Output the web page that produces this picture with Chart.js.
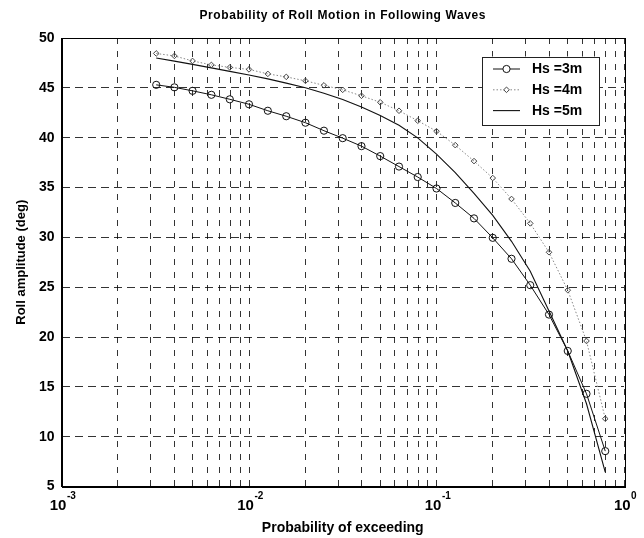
<!DOCTYPE html>
<html><head><meta charset="utf-8">
<script src="https://cdn.jsdelivr.net/npm/chart.js@4/dist/chart.umd.min.js"></script>
<style>html,body{margin:0;padding:0;background:#fff}#wrap{width:644px;height:538px}</style>
</head><body><div id="wrap"><canvas id="c" width="644" height="538"></canvas></div>
<script>
const chartTitle = 'Probability of Roll Motion in Following Waves';
const xAxisTitle = 'Probability of exceeding';
const yAxisTitle = 'Roll amplitude (deg)';
const seriesLabels = ['Hs =3m', 'Hs =4m', 'Hs =5m'];
const probExceeding = [0.0032, 0.0040, 0.0050, 0.0063, 0.0079, 0.0100, 0.0126, 0.0158, 0.0200, 0.0251,
  0.0316, 0.0398, 0.0501, 0.0631, 0.0794, 0.1000, 0.1259, 0.1585, 0.1995, 0.2512,
  0.3162, 0.3981, 0.5012, 0.6310, 0.7943];
const rollHs3 = [45.3, 45.05, 44.7, 44.3, 43.85, 43.35, 42.7, 42.15, 41.5, 40.7,
  39.95, 39.15, 38.15, 37.1, 36.05, 34.9, 33.45, 31.9, 29.95, 27.85,
  25.2, 22.25, 18.6, 14.3, 8.55];
const rollHs4 = [48.45, 48.2, 47.7, 47.3, 47.05, 46.85, 46.4, 46.1, 45.7, 45.25,
  44.8, 44.2, 43.55, 42.7, 41.7, 40.65, 39.25, 37.65, 35.95, 33.85,
  31.4, 28.5, 24.7, 19.6, 11.8];
const rollHs5 = [48.0, 47.68, 47.35, 47.0, 46.65, 46.28, 45.9, 45.47, 45.0, 44.45,
  43.82, 43.08, 42.22, 41.25, 39.98, 38.35, 36.5, 34.4, 32.2, 29.6,
  26.6, 22.6, 18.6, 13.3, 6.45];
const xGridTicks = [0.001, 0.002, 0.003, 0.004, 0.005, 0.006, 0.007, 0.008, 0.009,
  0.01, 0.02, 0.03, 0.04, 0.05, 0.06, 0.07, 0.08, 0.09,
  0.1, 0.2, 0.3, 0.4, 0.5, 0.6, 0.7, 0.8, 0.9, 1];
const xDecadeValues = [0.001, 0.01, 0.1, 1];
const xDecadeBase = '10';
const xDecadeExponents = ['-3', '-2', '-1', '0'];
const yTickValues = [5, 10, 15, 20, 25, 30, 35, 40, 45, 50];

const FONT = "'Liberation Sans', Arial, Helvetica, sans-serif";
Chart.defaults.font.family = FONT;
Chart.defaults.color = '#000';

const pts = arr => probExceeding.map((x, i) => ({x: x, y: arr[i]}));

const styles = [
  {borderColor: '#111', borderWidth: 1, borderDash: [], pointStyle: 'circle', pointRadius: 3.6, pointBorderColor: '#111'},
  {borderColor: '#888', borderWidth: 1, borderDash: [1.5, 2], pointStyle: 'rectRot', pointRadius: 2.8, pointBorderColor: '#444'},
  {borderColor: '#111', borderWidth: 1.1, borderDash: [], pointStyle: false, pointRadius: 0, pointBorderColor: '#111'}
];
const seriesData = [rollHs3, rollHs4, rollHs5];

const bgPlugin = {
  id: 'bg',
  beforeDraw(chart) {
    const ctx = chart.ctx;
    ctx.save(); ctx.fillStyle = '#fff'; ctx.fillRect(0, 0, chart.width, chart.height); ctx.restore();
  },
  afterDraw(chart) {
    const ctx = chart.ctx, a = chart.chartArea;
    ctx.save();
    // axes box
    ctx.strokeStyle = '#000'; ctx.lineWidth = 1;
    ctx.strokeRect(Math.round(a.left) + 0.5, Math.round(a.top) + 0.5, Math.round(a.right - a.left), Math.round(a.bottom - a.top));
    // x decade tick labels (10 with superscript exponent)
    const xs = chart.scales.x;
    ctx.fillStyle = '#000';
    ctx.textBaseline = 'alphabetic'; ctx.textAlign = 'left';
    xDecadeValues.forEach((v, i) => {
      const px = xs.getPixelForValue(v);
      ctx.font = 'bold 15px ' + FONT;
      const wb = ctx.measureText(xDecadeBase).width;
      ctx.font = 'bold 10px ' + FONT;
      const we = ctx.measureText(xDecadeExponents[i]).width;
      const x0 = px - (wb + we) / 2 + 1;
      ctx.font = 'bold 15px ' + FONT;
      ctx.fillText(xDecadeBase, x0, a.bottom + 23);
      ctx.font = 'bold 10px ' + FONT;
      ctx.fillText(xDecadeExponents[i], x0 + wb + 0.5, a.bottom + 12);
    });
    // title
    ctx.font = 'bold 12px ' + FONT;
    if ('letterSpacing' in ctx) ctx.letterSpacing = '0.6px';
    ctx.textAlign = 'center'; ctx.textBaseline = 'middle';
    ctx.fillText(chartTitle, (a.left + a.right) / 2, 16);
    if ('letterSpacing' in ctx) ctx.letterSpacing = '0px';
    // legend
    const bx = a.right - 142, by = a.top + 18.5, bw = 117, bh = 68;
    ctx.fillStyle = '#fff'; ctx.fillRect(bx, by, bw, bh);
    ctx.strokeStyle = '#222'; ctx.lineWidth = 1;
    ctx.strokeRect(Math.round(bx) + 0.5, Math.round(by) + 0.5, bw, bh);
    chart.data.datasets.forEach((ds, i) => {
      const cy = by + 12.5 + i * 20.8;
      const x1 = bx + 11, x2 = bx + 38, xm = (x1 + x2) / 2;
      ctx.save();
      ctx.strokeStyle = ds.borderColor; ctx.lineWidth = ds.borderWidth;
      ctx.setLineDash(ds.borderDash || []);
      ctx.beginPath(); ctx.moveTo(x1, cy); ctx.lineTo(x2, cy); ctx.stroke();
      ctx.setLineDash([]);
      if (ds.pointStyle) {
        ctx.strokeStyle = ds.pointBorderColor; ctx.fillStyle = '#fff'; ctx.lineWidth = 1;
        Chart.helpers.drawPoint(ctx, {pointStyle: ds.pointStyle, radius: ds.pointRadius, borderWidth: 1, rotation: 0}, xm, cy);
      }
      ctx.restore();
      ctx.fillStyle = '#000';
      ctx.font = 'bold 14px ' + FONT;
      ctx.textAlign = 'left'; ctx.textBaseline = 'middle';
      ctx.fillText(ds.label, bx + 50, cy + 0.5);
    });
    ctx.restore();
  }
};

new Chart(document.getElementById('c'), {
  type: 'line',
  data: {
    datasets: seriesData.map((arr, i) => ({
      label: seriesLabels[i],
      data: pts(arr),
      borderColor: styles[i].borderColor,
      borderWidth: styles[i].borderWidth,
      borderDash: styles[i].borderDash,
      pointStyle: styles[i].pointStyle,
      pointRadius: styles[i].pointRadius,
      pointBorderColor: styles[i].pointBorderColor,
      pointBorderWidth: 1,
      pointBackgroundColor: 'rgba(255,255,255,0)',
      backgroundColor: 'rgba(0,0,0,0)',
      fill: false,
      tension: 0
    }))
  },
  options: {
    responsive: false,
    devicePixelRatio: 1,
    animation: false,
    layout: {padding: {top: 38, right: 20, bottom: 0, left: 0}},
    plugins: {legend: {display: false}, title: {display: false}, tooltip: {enabled: false}},
    scales: {
      x: {
        type: 'logarithmic', min: 0.001, max: 1,
        afterBuildTicks: s => { s.ticks = xGridTicks.map(v => ({value: v, major: xDecadeValues.includes(v)})); },
        afterFit: s => { s.height = 51.5; },
        ticks: {display: false, autoSkip: false, maxRotation: 0, minRotation: 0},
        grid: {color: 'rgba(0,0,0,0.8)', lineWidth: 1, drawTicks: false, borderDash: [6, 7]},
        border: {display: true, color: '#000', width: 1, dash: [6, 7]},
        title: {display: true, text: xAxisTitle, font: {size: 14, weight: 'bold'}, padding: {top: 0, bottom: 1}}
      },
      y: {
        type: 'linear', min: 5, max: 50,
        afterBuildTicks: s => { s.ticks = yTickValues.map(v => ({value: v})); },
        afterFit: s => { s.width = 61.5; },
        ticks: {padding: 7, font: {size: 14, weight: 'bold'}, color: '#000'},
        grid: {color: 'rgba(0,0,0,0.8)', lineWidth: 1, drawTicks: false, borderDash: [8, 5]},
        border: {display: true, color: '#000', width: 1, dash: [8, 5]},
        title: {display: true, text: yAxisTitle, font: {size: 13, weight: 'bold'}, padding: {top: 14, bottom: 0}}
      }
    }
  },
  plugins: [bgPlugin]
});
</script></body></html>
